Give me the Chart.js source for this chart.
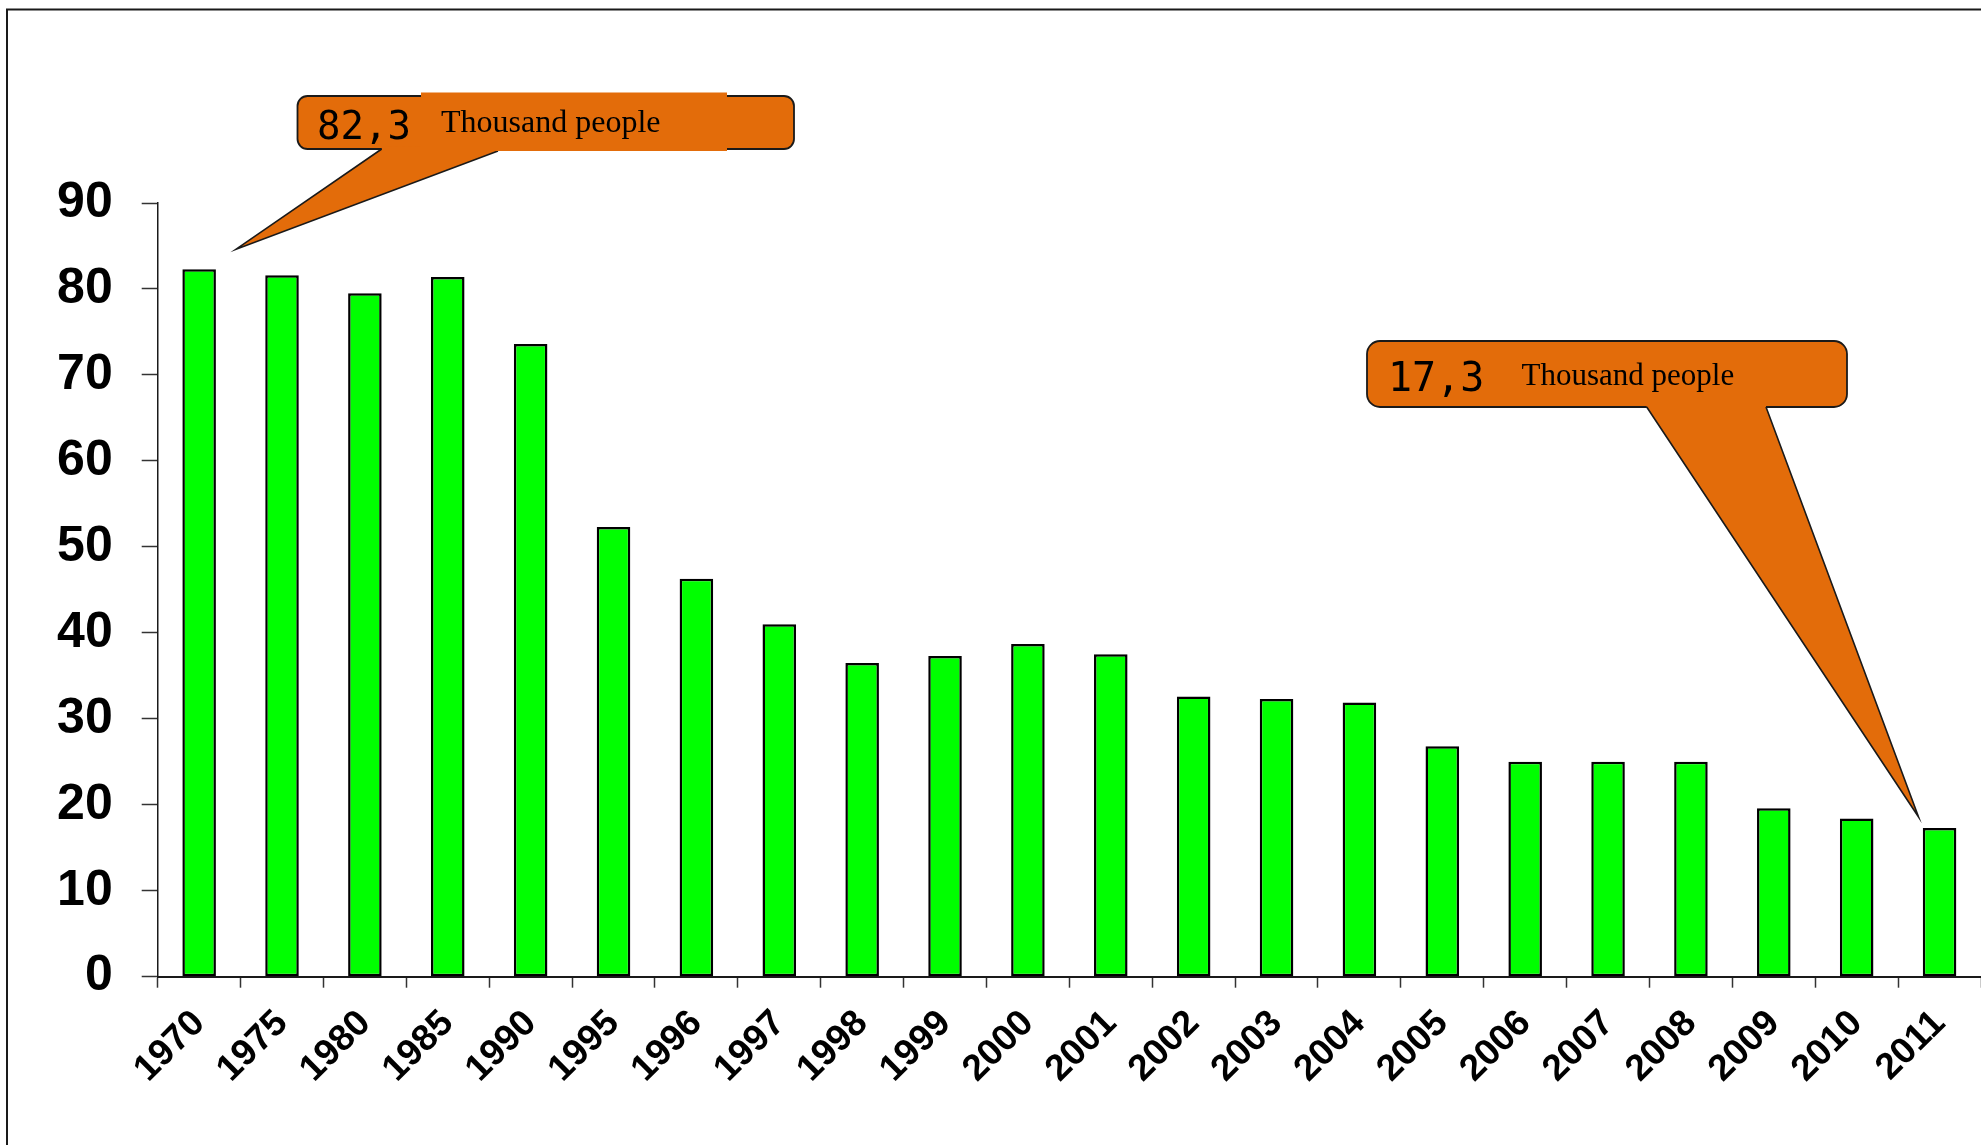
<!DOCTYPE html>
<html>
<head>
<meta charset="utf-8">
<script src="https://cdn.jsdelivr.net/npm/chart.js@4/dist/chart.umd.min.js"></script>
<style>
  html, body { margin: 0; padding: 0; background: #ffffff; }
  #wrap { position: relative; width: 1981px; height: 1145px; }
  canvas { display: block; }
</style>
</head>
<body>
<div id="wrap"><canvas id="chart" width="1981" height="1145"></canvas></div>
<script>
// Years shown along the horizontal axis
const years = ['1970', '1975', '1980', '1985', '1990', '1995', '1996', '1997', '1998', '1999', '2000',
               '2001', '2002', '2003', '2004', '2005', '2006', '2007', '2008', '2009', '2010', '2011'];

// Number of people, thousands
const people = [82.3, 81.6, 79.5, 81.4, 73.6, 52.3, 46.3, 41.0, 36.5, 37.3, 38.7,
                37.5, 32.6, 32.3, 31.9, 26.8, 25.0, 25.0, 25.0, 19.6, 18.4, 17.3];

// Vertical axis ticks
const yTicks = [0, 10, 20, 30, 40, 50, 60, 70, 80, 90];

// Callout caption
const unitText = 'Thousand people';

const ORANGE = '#e36c0a';

function fmt(v) {
  return v.toFixed(1).replace('.', ',');
}

// Frame around the drawing (top and left edges are visible)
const framePlugin = {
  id: 'frame',
  beforeDraw(chart) {
    const c = chart.ctx;
    c.save();
    c.strokeStyle = '#1a1a1a';
    c.lineWidth = 2;
    c.beginPath();
    c.moveTo(7, 1145);
    c.lineTo(7, 9.5);
    c.lineTo(1981, 9.5);
    c.stroke();
    c.restore();
  }
};

function roundRect(c, x, y, w, h, r) {
  c.beginPath();
  c.moveTo(x + r, y);
  c.lineTo(x + w - r, y);
  c.arcTo(x + w, y, x + w, y + r, r);
  c.lineTo(x + w, y + h - r);
  c.arcTo(x + w, y + h, x + w - r, y + h, r);
  c.lineTo(x + r, y + h);
  c.arcTo(x, y + h, x, y + h - r, r);
  c.lineTo(x, y + r);
  c.arcTo(x, y, x + r, y, r);
  c.closePath();
}

// Speech-bubble callouts pointing at the first and last bars
function drawCallout(c, cfg) {
  c.save();
  c.lineJoin = 'miter';
  // box
  roundRect(c, cfg.box.x, cfg.box.y, cfg.box.w, cfg.box.h, cfg.box.r);
  c.fillStyle = ORANGE;
  c.fill();
  c.strokeStyle = '#1a1a1a';
  c.lineWidth = 1.8;
  c.stroke();
  // pointer
  const bl = cfg.baseL, br = cfg.baseR, t = cfg.tip;
  c.beginPath();
  c.moveTo(bl[0], bl[1] - 3);
  c.lineTo(bl[0], bl[1]);
  c.lineTo(t[0], t[1]);
  c.lineTo(br[0], br[1]);
  c.lineTo(br[0], br[1] - 3);
  c.closePath();
  c.fillStyle = ORANGE;
  c.fill();
  c.beginPath();
  c.moveTo(bl[0], bl[1]);
  c.lineTo(t[0], t[1]);
  c.lineTo(br[0], br[1]);
  c.strokeStyle = '#1a1a1a';
  c.lineWidth = 1.6;
  c.stroke();
  // borderless text panel
  if (cfg.panel) {
    c.fillStyle = ORANGE;
    c.fillRect(cfg.panel.x, cfg.panel.y, cfg.panel.w, cfg.panel.h);
  }
  // texts
  c.fillStyle = '#000000';
  c.textBaseline = 'alphabetic';
  c.textAlign = 'left';
  c.font = cfg.numFont;
  c.fillText(cfg.num, cfg.numPos[0], cfg.numPos[1]);
  c.font = cfg.unitFont;
  c.fillText(unitText, cfg.unitPos[0], cfg.unitPos[1]);
  c.restore();
}

const calloutPlugin = {
  id: 'callouts',
  afterDraw(chart) {
    const c = chart.ctx;
    const xs = chart.scales.x, ys = chart.scales.y;
    const first = 0, last = people.length - 1;

    drawCallout(c, {
      box: { x: 297.5, y: 96, w: 496.5, h: 53, r: 10 },
      panel: { x: 421, y: 92.5, w: 306, h: 58.5 },
      baseL: [381.7, 149],
      baseR: [498, 151],
      tip: [xs.getPixelForValue(first) + 37, ys.getPixelForValue(people[first]) - 20],
      num: fmt(people[first]),
      numFont: '39px "DejaVu Sans Mono", monospace',
      numPos: [317, 139],
      unitFont: '32px "Liberation Serif", "Times New Roman", serif',
      unitPos: [441, 131.5]
    });

    drawCallout(c, {
      box: { x: 1367, y: 341, w: 480, h: 66, r: 13 },
      baseL: [1646.7, 407],
      baseR: [1766, 407],
      tip: [xs.getPixelForValue(last) - 21, ys.getPixelForValue(people[last]) - 11],
      num: fmt(people[last]),
      numFont: '40px "DejaVu Sans Mono", monospace',
      numPos: [1388, 391],
      unitFont: '31px "Liberation Serif", "Times New Roman", serif',
      unitPos: [1521.5, 385]
    });
  }
};

new Chart(document.getElementById('chart'), {
  type: 'bar',
  data: {
    labels: years,
    datasets: [{
      data: people,
      backgroundColor: '#00ff00',
      borderColor: '#000000',
      borderWidth: 2.5,
      borderSkipped: false,
      categoryPercentage: 1.0,
      barPercentage: 0.405
    }]
  },
  options: {
    responsive: false,
    devicePixelRatio: 1,
    animation: false,
    events: [],
    layout: { padding: { top: 203, left: 0, right: 0, bottom: 0 } },
    plugins: {
      legend: { display: false },
      tooltip: { enabled: false },
      title: { display: false }
    },
    scales: {
      x: {
        grid: {
          display: true,
          drawOnChartArea: false,
          drawTicks: true,
          tickLength: 11,
          tickWidth: 1.5,
          tickColor: '#333333',
          offset: true
        },
        border: { display: true, color: '#1a1a1a', width: 2 },
        ticks: {
          autoSkip: false,
          minRotation: 45,
          maxRotation: 45,
          padding: 14,
          color: '#000000',
          font: { family: '"Liberation Sans", Arial, sans-serif', size: 37, weight: 'bold' }
        },
        afterFit(s) {
          s.height = 1145 - 976.7;
          s.paddingLeft = 0;
          s.paddingRight = 0;
        }
      },
      y: {
        min: 0,
        max: 90,
        afterBuildTicks(s) {
          s.ticks = yTicks.map(v => ({ value: v }));
        },
        grid: {
          display: true,
          drawOnChartArea: false,
          drawTicks: true,
          tickLength: 16,
          tickWidth: 1.5,
          tickColor: '#333333'
        },
        border: { display: true, color: '#1a1a1a', width: 1.5 },
        ticks: {
          padding: 29,
          color: '#000000',
          font: { family: '"Liberation Sans", Arial, sans-serif', size: 50, weight: 'bold' }
        },
        afterFit(s) {
          s.width = 157.7;
          s.paddingTop = 0;
          s.paddingBottom = 0;
        }
      }
    }
  },
  plugins: [framePlugin, calloutPlugin]
});
</script>
</body>
</html>
